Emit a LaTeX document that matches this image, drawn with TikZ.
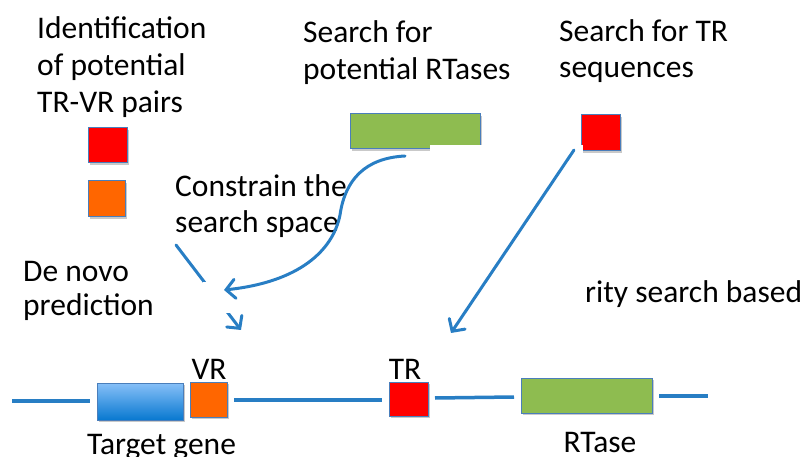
\documentclass[tikz,border=0pt]{standalone}
\usepackage{fontspec}
\setmainfont{Carlito}
\usetikzlibrary{arrows.meta,shadows}
\definecolor{arrowblue}{RGB}{40,126,196}
\definecolor{edgeblue}{RGB}{74,126,187}
\definecolor{trred}{RGB}{255,0,0}
\definecolor{vrorange}{RGB}{255,102,0}
\definecolor{rtgreen}{RGB}{142,188,80}
\definecolor{genetop}{RGB}{135,192,248}
\definecolor{genebot}{RGB}{8,120,208}
\tikzset{
  lbl/.style={anchor=base west, inner sep=0pt, font=\fontsize{31.5}{37}\selectfont},
  clbl/.style={anchor=base, inner sep=0pt, font=\fontsize{31.5}{37}\selectfont},
  box/.style={draw=edgeblue, line width=1pt, inner sep=0pt,
    drop shadow={shadow xshift=1.5pt, shadow yshift=-2pt, opacity=0.3, fill=black!70}},
  track/.style={draw=arrowblue, line width=3.5pt},
  arr/.style={draw=arrowblue, line width=3pt, line cap=round,
    -{Straight Barb[length=9pt,width=19pt,line cap=round]}},
  patch/.style={fill=white, draw=none}
}
\begin{document}
\begin{tikzpicture}[x=1pt, y=-1pt]
\useasboundingbox (0,0) rectangle (804,457);

% headings
\node[lbl] (idA) at (37,39) {Identification};
\node[lbl] (idB) at (37,76) {of potential};
\node[lbl] (idC) at (37,113) {TR-VR pairs};
\node[lbl] (rtA) at (303,43) {Search for};
\node[lbl] (rtB) at (303,80) {potential RTases};
\node[lbl] (trA) at (559,42) {Search for TR};
\node[lbl] (trB) at (559,78) {sequences};
\node[lbl] (csA) at (175,197) {Constrain the};
\node[lbl] (csB) at (175,233) {search space};
\node[lbl] (dnA) at (23,282) {De novo};
\node[lbl] (dnB) at (23,316) {prediction};
\node[lbl] (sim) at (585,303) {rity search based};

% legend boxes and query boxes
\node[box, fill=trred, minimum width=39pt, minimum height=35pt] (pairTR) at (107.5,145.5) {};
\node[box, fill=vrorange, minimum width=37pt, minimum height=36pt] (pairVR) at (106.5,199) {};
\node[box, fill=rtgreen, minimum width=130pt, minimum height=35pt] (qRT) at (415,131.5) {};
\node[box, fill=trred, minimum width=39pt, minimum height=36pt] (qTR) at (600.5,133) {};

% genome track
\coordinate (t1a) at (12,401);  \coordinate (t1b) at (90,401);
\coordinate (t2a) at (234,400); \coordinate (t2b) at (382,400);
\coordinate (t3a) at (435,398); \coordinate (t3b) at (514,397);
\coordinate (t4a) at (659,396); \coordinate (t4b) at (708,396);
\draw[track] (t1a) -- (t1b);
\draw[track] (t2a) -- (t2b);
\draw[track] (t3a) -- (t3b);
\draw[track] (t4a) -- (t4b);

\node[box, top color=genetop, bottom color=genebot, minimum width=86pt, minimum height=37pt] (gene) at (140,401.5) {};
\node[box, fill=vrorange, minimum width=37pt, minimum height=35pt] (vr) at (208.5,399.5) {};
\node[box, fill=trred, minimum width=39pt, minimum height=34pt] (tr) at (408.5,399) {};
\node[box, fill=rtgreen, minimum width=131pt, minimum height=35pt] (rt) at (586.5,395.5) {};

\node[clbl] (vrl) at (209,379) {VR};
\node[clbl] (trl) at (405,379) {TR};
\node[clbl] (genel) at (161.5,454) {Target gene};
\node[clbl] (rtl) at (600,452) {RTase};

% white cover strips
\fill[patch] (430,145) rectangle (583,162);
\fill[patch] (413,151) rectangle (430,162);

% arrows
\coordinate (dnS) at (176,245);
\coordinate (dnE) at (241,330);
\draw[arr] (dnS) -- (dnE);
\fill[patch] (203,282) rectangle (237,313);

\coordinate (cvS) at (405,156);
\coordinate (cvM) at (340,215);
\coordinate (cvE) at (224,290);
\draw[arr] (cvS) .. controls (365,158) and (345,180) .. (cvM)
                 .. controls (333,250) and (300,282) .. (cvE);

\coordinate (trS) at (574,150);
\coordinate (trE) at (451,333);
\draw[arr] (trS) -- (trE);
\end{tikzpicture}
\end{document}
